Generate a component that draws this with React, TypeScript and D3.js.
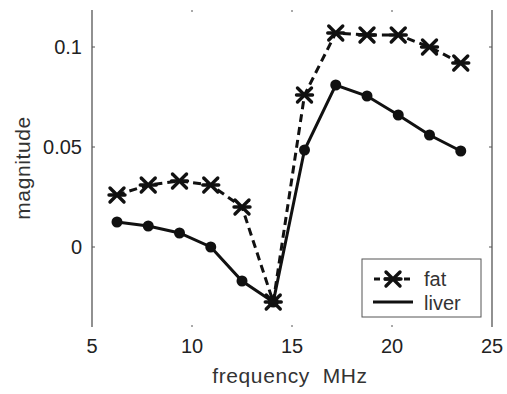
import React from "react";
import * as d3 from "d3";

const freq = [6.25, 7.8125, 9.375, 10.9375, 12.5, 14.0625, 15.625, 17.1875, 18.75, 20.3125, 21.875, 23.4375];
const fat = [0.026, 0.031, 0.033, 0.031, 0.02, -0.0275, 0.076, 0.107, 0.106, 0.106, 0.1, 0.092];
const liver = [0.0125, 0.0105, 0.007, 0.0, -0.017, -0.0275, 0.0485, 0.081, 0.0755, 0.066, 0.056, 0.048];
const xTicks = [5, 10, 15, 20, 25];
const yTicks = [0, 0.05, 0.1];
const yTickLabels = ["0", "0.05", "0.1"];

const W = 507, H = 394;
const left = 92, right = 492, top = 7, bottom = 327;

export default function App() {
  const x = d3.scaleLinear().domain([5, 25]).range([left, right]);
  const y = d3.scaleLinear().domain([-0.04, 0.12]).range([bottom, top]);
  const line = d3.line<number>().x((_, i) => x(freq[i])).y((d) => y(d));
  const font = "'Liberation Sans', Arial, sans-serif";
  const ink = "#111";
  const xMark = (cx: number, cy: number, k: string | number) => (
    <g key={k} stroke={ink} strokeWidth={3.4} strokeLinecap="round">
      <line x1={cx - 7} y1={cy - 7} x2={cx + 7} y2={cy + 7} />
      <line x1={cx - 7} y1={cy + 7} x2={cx + 7} y2={cy - 7} />
      <line x1={cx - 8} y1={cy} x2={cx + 8} y2={cy} />
    </g>
  );
  return (
    <svg width={W} height={H} style={{ position: "absolute", left: 0, top: 0, background: "#fff" }}>
      <rect width={W} height={H} fill="#fff" />
      <line x1={left} y1={top + 3} x2={left} y2={bottom} stroke="#555" strokeWidth={1.3} />
      <line x1={right} y1={top + 3} x2={right} y2={bottom} stroke="#555" strokeWidth={1.3} />
      {yTicks.map((t, i) => (
        <g key={"yt" + i}>
          <line x1={left} x2={left + 3} y1={y(t)} y2={y(t)} stroke="#555" />
          <line x1={right - 3} x2={right} y1={y(t)} y2={y(t)} stroke="#555" />
          <text x={left - 10} y={y(t)} dy="0.36em" textAnchor="end" fontFamily={font} fontSize={20} fill="#222">
            {yTickLabels[i]}
          </text>
        </g>
      ))}
      {xTicks.map((t, i) => (
        <g key={"xt" + i}>
          {i > 0 && i < xTicks.length - 1 && (
            <>
              <line x1={x(t)} x2={x(t)} y1={bottom} y2={bottom - 2} stroke="#555" />
              <line x1={x(t)} x2={x(t)} y1={top + 3} y2={top + 5} stroke="#555" />
            </>
          )}
          <text x={x(t)} y={353} textAnchor="middle" fontFamily={font} fontSize={20} fill="#222">
            {t}
          </text>
        </g>
      ))}
      <text x={290} y={383} textAnchor="middle" fontFamily={font} fontSize={21} fill="#333" letterSpacing={0.6} style={{ whiteSpace: "pre" }}>
        {"frequency  MHz"}
      </text>
      <text transform={`translate(30,${168}) rotate(-90)`} textAnchor="middle" fontFamily={font} fontSize={21} fill="#333" letterSpacing={0.6}>
        magnitude
      </text>
      <path d={line(fat) || ""} fill="none" stroke={ink} strokeWidth={3} strokeDasharray="8,5" />
      <path d={line(liver) || ""} fill="none" stroke={ink} strokeWidth={3} />
      {liver.map((v, i) => (
        <circle key={"l" + i} cx={x(freq[i])} cy={y(v)} r={5.5} fill={ink} />
      ))}
      {fat.map((v, i) => xMark(x(freq[i]), y(v), "f" + i))}
      <rect x={362} y={259} width={119} height={58} fill="#fff" stroke="#555" strokeWidth={1} />
      <line x1={374} x2={412} y1={279} y2={279} stroke={ink} strokeWidth={3} strokeDasharray="6,4" />
      {xMark(393, 279, "lg")}
      <text x={424} y={286} fontFamily={font} fontSize={20} fill="#333">fat</text>
      <line x1={373} x2={413} y1={302} y2={302} stroke={ink} strokeWidth={3} />
      <text x={424} y={310} fontFamily={font} fontSize={20} fill="#333">liver</text>
    </svg>
  );
}
